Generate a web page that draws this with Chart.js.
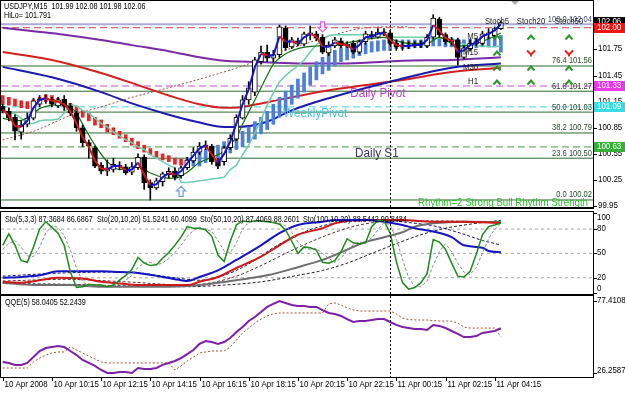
<!DOCTYPE html>
<html><head><meta charset="utf-8">
<script src="https://cdn.jsdelivr.net/npm/chart.js@4.4.0/dist/chart.umd.min.js"></script>
<style>
html,body{margin:0;padding:0;background:#fff;}
#wrap{position:relative;width:625px;height:395px;overflow:hidden;background:#fff;}
canvas{position:absolute;left:0;}
</style></head><body>
<div id="wrap">
<canvas id="cMain" width="625" height="209" style="top:0px"></canvas>
<canvas id="cSto" width="625" height="86" style="top:209px"></canvas>
<canvas id="cQqe" width="625" height="100" style="top:295px"></canvas>
</div>
<script>
// ---------------- DATA (USDJPY M15, bars from 10 Apr 2008 08:15) ----------------
const SYMBOL = 'USDJPY,M15';
const OPEN  = [101.10,101.04,100.97,100.80,100.89,100.96,101.12,101.17,101.18,101.10,101.18,101.10,101.02,100.85,100.68,100.62,100.42,100.35,100.37,100.42,100.40,100.34,100.39,100.51,100.22,100.16,100.23,100.31,100.35,100.30,100.39,100.47,100.57,100.63,100.64,100.47,100.46,100.62,100.72,100.96,101.17,101.26,101.61,101.72,101.65,101.69,102.00,101.78,101.85,101.81,101.92,101.93,101.89,101.71,101.79,101.85,101.79,101.82,101.72,101.84,101.92,101.89,101.95,101.94,101.82,101.78,101.80,101.79,101.81,101.79,101.89,102.10,101.92,101.84,101.86,101.66,101.76,101.82,101.82,101.93,101.91,101.99];
const HIGH  = [101.12,101.08,101.00,100.93,101.02,101.19,101.22,101.23,101.20,101.20,101.22,101.13,101.04,100.88,100.71,100.64,100.45,100.48,100.50,100.46,100.43,100.45,100.55,100.54,100.25,100.27,100.34,100.39,100.39,100.41,100.51,100.62,100.68,100.70,100.66,100.50,100.64,100.77,101.00,101.22,101.38,101.66,101.79,101.80,101.74,102.03,102.02,101.89,101.88,101.95,102.02,101.96,101.92,101.84,101.89,101.88,101.84,101.85,101.86,101.96,101.96,101.99,101.99,101.97,101.86,101.84,101.84,101.84,101.85,101.92,102.15,102.12,101.94,101.89,101.88,101.79,101.86,101.87,101.96,101.99,102.01,102.08];
const LOW   = [101.02,100.93,100.71,100.72,100.86,100.94,101.09,101.13,101.09,101.08,101.05,100.99,100.81,100.63,100.50,100.39,100.32,100.30,100.34,100.37,100.31,100.31,100.37,100.14,100.02,100.14,100.18,100.27,100.25,100.27,100.37,100.45,100.54,100.60,100.43,100.38,100.42,100.60,100.70,100.95,101.12,101.22,101.58,101.61,101.61,101.66,101.74,101.76,101.79,101.79,101.86,101.85,101.70,101.68,101.77,101.77,101.77,101.70,101.70,101.81,101.87,101.88,101.91,101.80,101.74,101.74,101.76,101.77,101.77,101.77,101.87,101.89,101.81,101.80,101.57,101.64,101.73,101.79,101.80,101.88,101.87,101.98];
const CLOSE = [101.04,100.96,100.81,100.88,100.96,101.16,101.18,101.19,101.12,101.17,101.10,101.02,100.85,100.68,100.64,100.41,100.35,100.39,100.43,100.40,100.33,100.40,100.51,100.22,100.16,100.24,100.32,100.35,100.28,100.39,100.48,100.57,100.64,100.65,100.46,100.41,100.62,100.73,100.97,101.17,101.31,101.63,101.72,101.65,101.69,102.01,101.77,101.86,101.81,101.93,101.94,101.88,101.72,101.80,101.86,101.79,101.81,101.72,101.84,101.93,101.89,101.95,101.94,101.82,101.78,101.80,101.79,101.81,101.80,101.89,102.11,101.92,101.84,101.86,101.66,101.77,101.82,101.84,101.93,101.94,101.99,102.06];
// fast colour-changing average (blue rising / red falling)
const FAST  = [101.06,100.99,100.87,100.86,100.93,101.08,101.17,101.19,101.16,101.15,101.12,101.04,100.90,100.74,100.63,100.47,100.38,100.37,100.41,100.41,100.36,100.37,100.45,100.31,100.19,100.20,100.28,100.33,100.31,100.35,100.44,100.53,100.61,100.65,100.54,100.45,100.55,100.69,100.90,101.12,101.29,101.55,101.70,101.68,101.68,101.90,101.84,101.84,101.82,101.89,101.93,101.90,101.78,101.78,101.83,101.81,101.80,101.75,101.80,101.89,101.90,101.93,101.94,101.86,101.80,101.79,101.79,101.80,101.80,101.86,102.03,101.97,101.88,101.85,101.72,101.74,101.80,101.83,101.90,101.93,101.97,102.04];
// HiLo activator line
const HILO  = [101.03,101.03,101.01,100.96,100.90,100.90,100.93,100.94,100.94,100.95,101.02,101.12,101.10,101.05,101.02,100.96,100.90,100.86,100.80,100.76,100.71,100.68,100.63,100.60,100.54,100.50,100.46,100.42,100.39,100.22,100.22,100.23,100.24,100.25,100.26,100.27,100.28,100.37,100.42,100.54,100.65,100.79,100.94,101.11,101.25,101.38,101.45,101.51,101.56,101.63,101.72,101.80,101.87,101.91,101.92,101.92,101.92,101.92,101.92,101.92,101.92,101.92,101.92,101.89,101.89,101.89,101.89,101.89,101.89,101.89,101.88,101.88,101.88,101.88,101.84,101.81,101.80,101.79,101.79,101.78,101.78,101.791];
// trend histogram (top / bottom of each block) and its direction
const HB_TOP = [101.22,101.20,101.18,101.16,101.15,101.17,101.20,101.23,101.22,101.19,101.17,101.13,101.10,101.05,101.02,100.97,100.94,100.89,100.85,100.81,100.77,100.73,100.69,100.65,100.61,100.58,100.55,100.53,100.50,100.49,100.50,100.54,100.58,100.60,100.63,100.65,100.69,100.72,100.77,100.81,100.86,100.92,100.97,101.04,101.12,101.20,101.27,101.34,101.41,101.48,101.55,101.61,101.66,101.71,101.74,101.77,101.79,101.80,101.81,101.82,101.84,101.85,101.86,101.86,101.86,101.86,101.86,101.86,101.86,101.87,101.88,101.89,101.88,101.88,101.87,101.86,101.87,101.88,101.89,101.89,101.91,101.91];
const HB_BOT = [101.12,101.11,101.10,101.08,101.07,101.09,101.12,101.15,101.13,101.11,101.09,101.04,101.01,100.97,100.93,100.88,100.85,100.80,100.77,100.73,100.69,100.65,100.61,100.57,100.54,100.51,100.48,100.46,100.43,100.42,100.41,100.41,100.41,100.45,100.48,100.50,100.53,100.56,100.60,100.63,100.68,100.72,100.78,100.83,100.89,100.97,101.04,101.12,101.19,101.26,101.34,101.40,101.47,101.51,101.56,101.61,101.63,101.65,101.68,101.70,101.72,101.73,101.74,101.74,101.76,101.76,101.76,101.77,101.77,101.78,101.79,101.79,101.78,101.78,101.77,101.74,101.76,101.77,101.78,101.78,101.78,101.72];
const HB_TREND = [-1,-1,-1,-1,-1,-1,-1,-1,-1,-1,-1,-1,-1,-1,-1,-1,-1,-1,-1,-1,-1,-1,-1,-1,-1,-1,-1,-1,-1,-1,1,1,1,1,1,1,1,1,1,1,1,1,1,1,1,1,1,1,1,1,1,1,1,1,1,1,1,1,1,1,1,1,1,1,1,1,1,1,1,1,1,1,1,1,1,1,1,1,1,1,1,1];
// moving averages, [bar, price]
const EMA_GREEN = [[0,100.96],[2,100.93],[4,100.96],[6,101.07],[8,101.11],[10,101.12],[11,101.09],[12,101.02],[13,100.89],[15,100.65],[17,100.46],[19,100.37],[22,100.40],[24,100.33],[26,100.28],[28,100.27],[30,100.34],[32,100.45],[34,100.51],[36,100.58],[37,100.66],[38,100.74],[39,100.89],[40,101.03],[41,101.17],[42,101.31],[43,101.45],[44,101.58],[46,101.70],[48,101.76],[51,101.79],[54,101.80],[57,101.84],[62,101.89],[64,101.85],[66,101.82],[69,101.82],[71,101.89],[74,101.79],[76,101.80],[79,101.87],[81,101.94]];
const MA_PURPLE = [[0,102.00],[5,101.96],[10,101.92],[16,101.86],[21,101.80],[27,101.73],[32,101.66],[36,101.62],[40,101.61],[48,101.59],[56,101.59],[65,101.62],[73,101.63],[81,101.66]];
const MA_RED    = [[0,101.72],[8,101.63],[16,101.48],[22,101.34],[27,101.22],[32,101.12],[36,101.08],[39,101.09],[42,101.13],[47,101.20],[53,101.28],[60,101.35],[65,101.40],[73,101.49],[81,101.54]];
const MA_BLUE   = [[0,101.55],[8,101.43],[16,101.26],[21,101.13],[27,101.00],[32,100.91],[36,100.86],[38,100.86],[43,100.92],[47,101.05],[53,101.19],[63,101.38],[73,101.54],[81,101.59]];
const MA_DOTTED = [[0,100.71],[5,100.81],[11,100.99],[16,101.09],[21,101.20],[27,101.31],[34,101.45],[39,101.56],[45,101.72],[49,101.81],[52,101.88],[55,101.94],[58,101.99],[63,102.01],[66,102.01]];
// Fibonacci retracement
const FIB_LEVELS = [100.0, 76.4, 61.8, 50.0, 38.2, 23.6, 0.0];
const FIB_PRICES = [102.04, 101.56, 101.27, 101.03, 100.79, 100.50, 100.02];
// pivots
const PIVOT_NAMES  = ['', 'Daily Pivot', 'WeeklyPivot', 'Daily S1'];
const PIVOT_PRICES = [102.00, 101.33, 101.09, 100.63];
const BID = 102.06;
const PRICE_TICKS = [101.75, 101.45, 101.15, 100.85, 100.55, 100.25, 99.95];
const RHYTHM_TEXT = 'Rhythm=2 Strong Bull Rhythm Strength';
// multi-timeframe stochastic signals
const SIG_COLS = ['Stoch5', 'Stoch20', 'Stoch50'];
const SIG_ROWS = ['M5', 'M15', 'M30', 'H1'];
const SIG_DIR  = [[1,1,1],[1,-1,-1],[1,1,1],[1,1,1]];
// arrow signals
const ARROW_BARS   = [29, 52];
const ARROW_DIRS   = [1, -1];
const ARROW_PRICES = [100.12, 102.01];
// stochastics
const STO5     = [60,74,60,41,39,58,80,89,82,75,60,27,8,9,12,11,11,9,11,17,23,30,45,38,35,36,44,51,60,70,83,81,81,79,71,48,40,65,85,90,89,90,90,89,88,86,79,65,50,58,57,54,39,38,41,52,68,63,62,63,83,91,90,75,40,14,6,8,14,25,67,64,55,38,22,21,28,49,73,83,85,87.3684];
const STO5_SIG = [55,62,66,58,47,46,58,75,84,82,72,54,32,15,10,11,11,10,10,12,17,23,33,38,39,36,38,44,51,60,71,78,82,80,77,66,53,51,63,80,88,90,90,89,89,87,84,76,64,57,55,56,50,44,39,44,54,61,64,63,69,79,88,85,68,43,20,9,9,16,35,52,62,52,38,27,24,33,50,68,80,86.6867];
const STO20     = [[0,20],[3,21],[6,23],[9,28],[13,28],[16,28],[19,27],[22,26],[26,21],[29,17],[30,16],[32,21],[35,29],[38,42],[42,60],[45,75],[48,85],[52,89],[54,91],[59,91],[62,89],[65,85],[67,81],[70,77],[73,70],[75,60],[78,57],[79,53],[81,51.5241]];
const STO20_SIG = [[0,22],[10,26],[20,27],[28,20],[32,17],[36,23],[40,37],[44,57],[48,73],[52,84],[56,89],[62,91],[66,88],[70,84],[74,76],[78,66],[81,60.4099]];
const STO50     = [[0,15],[3,14],[6,17],[9,20],[13,19],[16,15],[19,13],[22,11],[26,11],[30,11],[32,15],[35,21],[38,32],[42,46],[45,60],[48,73],[52,81],[54,87],[56,90],[59,91],[65,91],[70,89],[75,89],[81,87.4069]];
const STO50_SIG = [[0,16],[10,18],[20,15],[30,11],[34,14],[38,22],[42,35],[46,50],[50,64],[54,76],[58,85],[64,90],[70,90],[81,88.2601]];
const STO100     = [[0,14],[5,11],[11,11],[16,9],[21,9],[27,9],[32,11],[37,16],[43,23],[48,33],[52,42],[54,48],[59,64],[62,70],[65,76],[67,83],[70,87],[75,89],[81,88.5442]];
const STO100_SIG = [[0,13],[10,12],[20,10],[30,9],[36,11],[42,15],[48,23],[52,29],[56,38],[60,50],[64,62],[68,73],[72,81],[76,86],[81,90.8484]];
const STO_LEVELS = [20, 50, 80];
const STO_AXIS = [100, 80, 50, 20, 0];
// QQE
const QQE     = [34.1,33.4,32.0,32.0,33.4,37.6,41.9,44.0,44.7,45.4,44.7,41.9,39.0,35.5,33.4,31.3,28.4,26.2587,26.3,27.0,27.0,26.3,29.8,29.1,29.1,29.8,32.0,33.4,34.8,36.9,39.7,42.6,46.9,49.0,48.3,46.9,48.3,51.1,55.4,58.9,63.2,66.0,69.6,73.2,75.3,77.4108,76.0,74.6,73.9,73.9,73.2,73.2,71.0,68.9,68.2,66.8,64.6,62.5,63.2,63.2,63.9,64.6,64.6,62.5,60.4,58.9,58.2,57.5,57.5,56.8,60.4,59.7,58.2,56.1,54.0,51.8,51.8,52.5,54.7,55.4,56.1,58.0405];
const QQE_SIG = [29.8,29.8,29.8,29.8,29.8,34.1,36.9,39.0,40.5,41.2,41.2,44.7,42.6,40.5,38.3,36.2,34.1,33.4,33.4,33.4,33.4,33.4,33.4,33.4,33.4,33.4,33.4,33.4,28.4,31.3,34.8,37.6,40.5,41.2,41.9,41.9,41.9,44.7,49.7,54.7,58.2,61.8,64.6,66.8,68.2,68.9,68.9,68.9,68.9,68.9,68.9,68.9,68.9,75.3,76.0,74.6,72.5,71.0,70.3,70.3,70.3,70.3,70.3,70.3,68.2,65.3,64.2,64.0,63.9,63.9,63.5,63.2,63.2,63.0,61.8,58.9,58.2,58.2,58.2,58.2,58.2,52.2439];
// time axis
const X_TICK_BARS   = [0, 8, 16, 24, 32, 40, 48, 56, 64, 72, 80];
const X_TICK_LABELS = ['10 Apr 2008','10 Apr 10:15','10 Apr 12:15','10 Apr 14:15','10 Apr 16:15','10 Apr 18:15','10 Apr 20:15','10 Apr 22:15','11 Apr 00:15','11 Apr 02:15','11 Apr 04:15'];
const SEPARATOR_BAR = 63; // 11 Apr 00:00

// ---------------- LAYOUT / STYLE ----------------
const X_MIN = -0.2764, X_MAX = 95.98;
const Y_MAIN_MIN = 99.9278, Y_MAIN_MAX = 102.3071;
const FONT = '"Liberation Sans", Arial, sans-serif';
const PIVOT_LINE_COLORS = ['#c84848', '#c850c8', '#48d2de', '#48a048'];
const PIVOT_BOX_COLORS  = ['#f01414', '#e838e8', '#38dce6', '#34b034'];
const PIVOT_TEXT_COLORS = ['#000', '#b848c0', '#48c8d8', '#343458'];
const PIVOT_LABEL_AT = [0, 56.5, 45.6, 57.3];
const GRID_X = [497, 531, 569], GRID_Y = [37, 53, 68, 82];

const pairs  = a => a.map(([x, y]) => ({x, y}));
const series = a => a.map((y, x) => ({x, y}));
const hline  = v => [{x: X_MIN, y: v}, {x: X_MAX, y: v}];
const lineDS = (data, color, width, order, extra) => Object.assign({type: 'line', data, borderColor: color, borderWidth: width, pointRadius: 0, fill: false, tension: 0, spanGaps: true, order}, extra || {});
const smooth = {cubicInterpolationMode: 'monotone'};

function drawText(ctx, s, x, y, o) {
  o = o || {};
  ctx.save();
  ctx.font = (o.bold ? 'bold ' : '') + (o.size || 9) + 'px ' + FONT;
  ctx.fillStyle = o.color || '#000';
  ctx.textBaseline = 'middle';
  ctx.textAlign = 'left';
  const mw = ctx.measureText(s).width;
  const sx = o.width ? o.width / mw : (o.sx || 0.86);
  const w = mw * sx;
  let left = x;
  if (o.align === 'right') left = x - w; else if (o.align === 'center') left = x - w / 2;
  ctx.translate(left, y); ctx.scale(sx, 1);
  ctx.fillText(s, 0, 0);
  ctx.restore();
}
function vsep(ctx, px, top, bottom) {
  ctx.save(); ctx.strokeStyle = '#000'; ctx.lineWidth = 1; ctx.setLineDash([2, 2]);
  const X = Math.round(px) + 0.5;
  ctx.beginPath(); ctx.moveTo(X, top); ctx.lineTo(X, bottom); ctx.stroke(); ctx.restore();
}
function tickMark(ctx, y) {
  ctx.save(); ctx.strokeStyle = '#000'; ctx.lineWidth = 1;
  const Y = Math.round(y) + 0.5;
  ctx.beginPath(); ctx.moveTo(593, Y); ctx.lineTo(597, Y); ctx.stroke(); ctx.restore();
}
function priceBox(ctx, y, text, bg) {
  ctx.save(); ctx.fillStyle = bg; ctx.fillRect(594, Math.round(y) - 5, 31, 10); ctx.restore();
  drawText(ctx, text, 597, Math.round(y), {color: '#fff', size: 9, sx: 0.88});
}
function chevron(ctx, cx, cy, dir) {
  ctx.save(); ctx.lineWidth = 2;
  ctx.strokeStyle = dir > 0 ? '#2c962c' : '#e02222';
  ctx.beginPath();
  if (dir > 0) { ctx.moveTo(cx - 3.5, cy + 2.5); ctx.lineTo(cx, cy - 1.5); ctx.lineTo(cx + 3.5, cy + 2.5); }
  else { ctx.moveTo(cx - 4, cy - 2.5); ctx.lineTo(cx, cy + 1.5); ctx.lineTo(cx + 4, cy - 2.5); ctx.moveTo(cx, cy + 1); ctx.lineTo(cx, cy + 3.5); }
  ctx.stroke(); ctx.restore();
}
function hollowArrow(ctx, cx, cy, dir, color) {
  const pts = [[0,-5],[4.5,-0.5],[2,-0.5],[2,5],[-2,5],[-2,-0.5],[-4.5,-0.5]];
  ctx.save(); ctx.beginPath();
  pts.forEach(([dx, dy], k) => { const X = cx + dx, Y = cy + dy * dir; k ? ctx.lineTo(X, Y) : ctx.moveTo(X, Y); });
  ctx.closePath(); ctx.fillStyle = '#fff'; ctx.fill();
  ctx.strokeStyle = color; ctx.lineWidth = 1.2; ctx.stroke(); ctx.restore();
}
const baseOpts = (yMin, yMax, pad) => ({
  responsive: false, maintainAspectRatio: false, animation: false, devicePixelRatio: 1, events: [],
  layout: {padding: pad},
  plugins: {legend: {display: false}, tooltip: {enabled: false}},
  scales: {
    x: {type: 'linear', min: X_MIN, max: X_MAX, offset: false, display: false},
    y: {type: 'linear', min: yMin, max: yMax, display: false}
  }
});

// ---------------- MAIN PANE ----------------
const mainPlugin = {
  id: 'mainDecor',
  afterDatasetsDraw(chart) {
    const {ctx, scales: {x, y}, chartArea: a} = chart;
    const px = b => x.getPixelForValue(b), py = v => y.getPixelForValue(v);
    vsep(ctx, px(SEPARATOR_BAR), a.top, a.bottom);
    FIB_LEVELS.forEach((lv, i) => drawText(ctx, lv.toFixed(1) + ' ' + FIB_PRICES[i].toFixed(2), 592, py(FIB_PRICES[i]) - 5,
      {align: 'right', size: 9, sx: 0.84, color: i === 0 ? '#4a4a8a' : '#2a4a2a'}));
    PIVOT_NAMES.forEach((n, i) => { if (n) drawText(ctx, n, px(PIVOT_LABEL_AT[i]), py(PIVOT_PRICES[i]) + 7, {size: 13, sx: 0.9, color: PIVOT_TEXT_COLORS[i]}); });
    drawText(ctx, RHYTHM_TEXT, 588, 203, {align: 'right', size: 11, width: 170, color: '#30c030'});
    const n = CLOSE.length - 1;
    drawText(ctx, SYMBOL + '  ' + [OPEN[n], HIGH[n], LOW[n], CLOSE[n]].map(v => v.toFixed(2)).join(' '), 4, 7, {size: 9, sx: 0.8});
    drawText(ctx, 'HiLo= ' + HILO[n].toFixed(3), 4, 16, {size: 9, sx: 0.8});
    SIG_COLS.forEach((c, j) => drawText(ctx, c, GRID_X[j], 22, {align: 'center', size: 9, sx: 0.86, color: '#1a1a1a'}));
    SIG_ROWS.forEach((r, k) => {
      drawText(ctx, r, 478, GRID_Y[k], {align: 'right', size: 9, sx: 0.86, color: '#1a1a1a'});
      SIG_DIR[k].forEach((d, j) => chevron(ctx, GRID_X[j], GRID_Y[k], d));
    });
    ARROW_BARS.forEach((b, i) => hollowArrow(ctx, px(b), py(ARROW_PRICES[i]), ARROW_DIRS[i], ARROW_DIRS[i] > 0 ? '#6c9ee4' : '#ee5ad6'));
    ctx.save(); ctx.fillStyle = '#a8a8a8'; ctx.beginPath(); ctx.moveTo(511, 1); ctx.lineTo(519, 1); ctx.lineTo(515, 5); ctx.closePath(); ctx.fill(); ctx.restore();
  },
  afterDraw(chart) {
    const {ctx, scales: {y}} = chart;
    const py = v => y.getPixelForValue(v);
    ctx.save(); ctx.strokeStyle = '#000'; ctx.lineWidth = 1;
    ctx.strokeRect(0.5, 0.5, 593, 208);
    ctx.fillStyle = '#000'; ctx.fillRect(0, 207, 594, 2);
    ctx.restore();
    PRICE_TICKS.forEach(v => { tickMark(ctx, py(v)); drawText(ctx, v.toFixed(2), 598, Math.round(py(v)), {size: 9, sx: 0.88}); });
    priceBox(ctx, py(BID), BID.toFixed(2), '#000');
    PIVOT_PRICES.forEach((p, i) => priceBox(ctx, py(p), p.toFixed(2), PIVOT_BOX_COLORS[i]));
  }
};
new Chart(document.getElementById('cMain'), {
  type: 'line',
  data: {datasets: [
    ...FIB_PRICES.map((p, i) => lineDS(hline(p), i === 0 ? '#aaaadc' : '#2d6a2d', i === 0 ? 2 : 1, 100)),
    ...PIVOT_PRICES.map((p, i) => lineDS(hline(p), PIVOT_LINE_COLORS[i], 1, 98, {borderDash: [7, 4]})),
    lineDS(pairs(MA_PURPLE), '#7a2aa8', 2, 90, smooth),
    lineDS(pairs(MA_RED), '#d42020', 2, 89, smooth),
    lineDS(pairs(MA_BLUE), '#1a1ab0', 2, 88, smooth),
    lineDS(pairs(MA_DOTTED), '#a04848', 1, 85, Object.assign({borderDash: [2, 2]}, smooth)),
    {type: 'bar', data: HB_TOP.map((t, i) => ({x: i, y: [HB_BOT[i], t]})), order: 80, grouped: false, barThickness: 3, borderWidth: 0,
     backgroundColor: c => HB_TREND[c.dataIndex] < 0 ? '#ea2424' : '#4c7edc'},
    lineDS(series(HILO), '#6ccfae', 1.5, 75),
    lineDS(pairs(EMA_GREEN), '#0e6e0e', 1.2, 70, smooth),
    {type: 'bar', data: LOW.map((l, i) => ({x: i, y: [l, HIGH[i]]})), order: 60, grouped: false, barThickness: 1, borderWidth: 0, backgroundColor: '#000'},
    {type: 'bar', data: OPEN.map((o, i) => ({x: i, y: [o, CLOSE[i]]})), order: 55, grouped: false, barThickness: 5, minBarLength: 1,
     borderWidth: 1, borderColor: '#000', borderSkipped: false,
     backgroundColor: c => CLOSE[c.dataIndex] >= OPEN[c.dataIndex] ? '#fff' : '#000'},
    lineDS(series(FAST), '#1212d0', 2, 50, {segment: {borderColor: s => s.p1.parsed.y >= s.p0.parsed.y ? '#1212d0' : '#d81414'}})
  ]},
  options: baseOpts(Y_MAIN_MIN, Y_MAIN_MAX, {left: 1, right: 32, top: 1, bottom: 1}),
  plugins: [mainPlugin]
});

// ---------------- STOCHASTIC PANE ----------------
const stoPlugin = {
  id: 'stoDecor',
  afterDatasetsDraw(chart) {
    const {ctx, scales: {x}, chartArea: a} = chart;
    vsep(ctx, x.getPixelForValue(SEPARATOR_BAR), a.top, a.bottom);
    const n = STO5.length - 1, f = v => v.toFixed(4);
    const hdr = [
      'Sto(5,3,3) ' + f(STO5[n]) + ' ' + f(STO5_SIG[n]),
      'Sto(20,10,20) ' + f(STO20[STO20.length - 1][1]) + ' ' + f(STO20_SIG[STO20_SIG.length - 1][1]),
      'Sto(50,10,20) ' + f(STO50[STO50.length - 1][1]) + ' ' + f(STO50_SIG[STO50_SIG.length - 1][1]),
      'Sto(100,10,20) ' + f(STO100[STO100.length - 1][1]) + ' ' + f(STO100_SIG[STO100_SIG.length - 1][1])
    ];
    [5, 97, 200, 303].forEach((hx, i) => drawText(ctx, hdr[i], hx, 11, {size: 9, sx: 0.8}));
  },
  afterDraw(chart) {
    const {ctx, scales: {y}, chartArea: a} = chart;
    ctx.save(); ctx.strokeStyle = '#000'; ctx.lineWidth = 1; ctx.strokeRect(0.5, 2.5, 593, 83); ctx.restore();
    STO_AXIS.forEach(v => {
      const p = y.getPixelForValue(v);
      tickMark(ctx, Math.min(Math.max(p, a.top), a.bottom - 1));
      drawText(ctx, String(v), 597, Math.round(Math.min(Math.max(p, a.top + 6), a.bottom - 5)), {size: 9, sx: 0.88});
    });
  }
};
new Chart(document.getElementById('cSto'), {
  type: 'line',
  data: {datasets: [
    ...STO_LEVELS.map(v => lineDS(hline(v), '#a8a8a8', 1, 100, {borderDash: [3, 3]})),
    lineDS(pairs(STO100_SIG), '#202020', 1, 95, Object.assign({borderDash: [3, 2]}, smooth)),
    lineDS(pairs(STO50_SIG), '#5a3030', 1, 94, Object.assign({borderDash: [3, 2]}, smooth)),
    lineDS(pairs(STO20_SIG), '#101070', 1, 93, Object.assign({borderDash: [3, 2]}, smooth)),
    lineDS(pairs(STO100), '#6e6e6e', 2, 90, smooth),
    lineDS(pairs(STO50), '#d01818', 2, 85, smooth),
    lineDS(pairs(STO20), '#1414c4', 2, 80, smooth),
    lineDS(series(STO5_SIG), '#8a8a8a', 1, 75, {borderDash: [3, 2]}),
    lineDS(series(STO5), '#1f8a1f', 1.5, 70)
  ]},
  options: baseOpts(0, 101, {left: 1, right: 32, top: 3, bottom: 1}),
  plugins: [stoPlugin]
});

// ---------------- QQE PANE ----------------
const qMax = Math.max(...QQE), qMin = Math.min(...QQE);
const qUnit = (qMax - qMin) / 72;
const qqePlugin = {
  id: 'qqeDecor',
  afterDatasetsDraw(chart) {
    const {ctx, scales: {x}, chartArea: a} = chart;
    vsep(ctx, x.getPixelForValue(SEPARATOR_BAR), a.top, a.bottom);
    const n = QQE.length - 1;
    drawText(ctx, 'QQE(5) ' + QQE[n].toFixed(4) + ' ' + QQE_SIG[n].toFixed(4), 5, 8, {size: 9, sx: 0.8});
  },
  afterDraw(chart) {
    const {ctx, scales: {x, y}, chartArea: a} = chart;
    ctx.save(); ctx.strokeStyle = '#000'; ctx.lineWidth = 1; ctx.strokeRect(0.5, 0.5, 593, 82); ctx.restore();
    [qMax, qMin].forEach(v => {
      const p = y.getPixelForValue(v);
      tickMark(ctx, p);
      drawText(ctx, v.toFixed(4), 597, Math.round(Math.min(Math.max(p, a.top + 5), a.bottom - 6)), {size: 9, sx: 0.88});
    });
    X_TICK_BARS.forEach((b, i) => {
      const X = Math.round(x.getPixelForValue(b)) + 0.5;
      ctx.save(); ctx.strokeStyle = '#000'; ctx.beginPath(); ctx.moveTo(X, 82); ctx.lineTo(X, 86); ctx.stroke(); ctx.restore();
      drawText(ctx, X_TICK_LABELS[i], X + 1, 90, {size: 9, sx: 0.88});
    });
  }
};
new Chart(document.getElementById('cQqe'), {
  type: 'line',
  data: {datasets: [
    lineDS(series(QQE_SIG), '#a0522d', 1, 60, {borderDash: [2, 2]}),
    lineDS(series(QQE), '#7d1fa8', 2, 50)
  ]},
  options: baseOpts(qMin - 4 * qUnit, qMax + 5 * qUnit, {left: 1, right: 32, top: 1, bottom: 18}),
  plugins: [qqePlugin]
});
</script>
</body></html>
